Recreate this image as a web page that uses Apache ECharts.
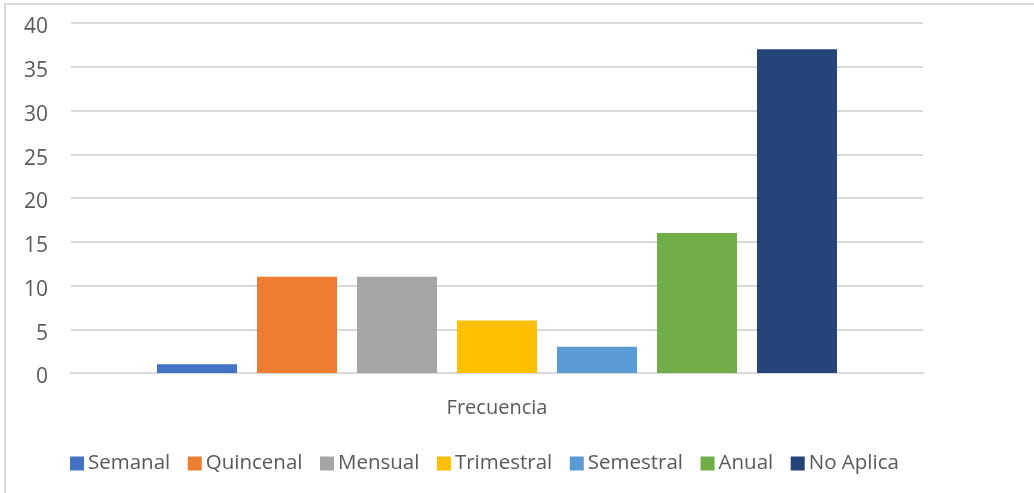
<!DOCTYPE html>
<html>
<head>
<meta charset="utf-8">
<script src="https://cdn.jsdelivr.net/npm/echarts@6/dist/echarts.min.js"></script>
<style>
  html, body { margin: 0; padding: 0; background: #fff; }
  #chart { width: 1034px; height: 493px; }
</style>
</head>
<body>
<div id="chart"></div>
<script>
// categories and values
const categories = ['Frecuencia'];
const seriesNames = ['Semanal', 'Quincenal', 'Mensual', 'Trimestral', 'Semestral', 'Anual', 'No Aplica'];
const seriesValues = [1, 11, 11, 6, 3, 16, 37];
const seriesColors = ['#4472C4', '#ED7D31', '#A5A5A5', '#FFC000', '#5B9BD5', '#70AD47', '#264478'];
const yTicks = { min: 0, max: 40, interval: 5 };

const font = 'Open Sans, Noto Sans, sans-serif';
const chart = echarts.init(document.getElementById('chart'));

const series = seriesNames.map((name, i) => ({
  name: name,
  type: 'bar',
  data: [seriesValues[i]],
  barWidth: 80,
  barGap: '25%',
  itemStyle: { color: seriesColors[i] },
  emphasis: { disabled: true }
}));

chart.setOption({
  animation: false,
  textStyle: { fontFamily: font },
  graphic: [{
    type: 'rect',
    shape: { x: 5, y: 4, width: 1040, height: 510 },
    style: { fill: 'none', stroke: '#d9d9d9', lineWidth: 2 },
    silent: true
  }],
  legend: {
    left: 65,
    top: 448,
    itemWidth: 14,
    itemHeight: 14,
    itemGap: 17.5,
    icon: 'rect',
    textStyle: { fontSize: 20.5, color: '#595959', fontFamily: font, padding: [0, 0, 0, -1] },
    data: seriesNames
  },
  grid: { left: 71, right: 111, top: 23, bottom: 120 },
  xAxis: {
    type: 'category',
    data: categories,
    axisLine: { lineStyle: { color: '#d9d9d9', width: 2 } },
    axisTick: { show: false },
    axisLabel: { color: '#595959', fontSize: 20, margin: 25, fontFamily: font }
  },
  yAxis: {
    type: 'value',
    min: yTicks.min,
    max: yTicks.max,
    interval: yTicks.interval,
    axisLine: { show: false },
    axisTick: { show: false },
    splitLine: { lineStyle: { color: '#d9d9d9', width: 2 } },
    axisLabel: {
      margin: 23,
      formatter: '{v|{value}}',
      rich: { v: { color: '#595959', fontSize: 21, fontFamily: font, padding: [9, 0, 0, 0] } }
    }
  },
  series: series
});
</script>
</body>
</html>
